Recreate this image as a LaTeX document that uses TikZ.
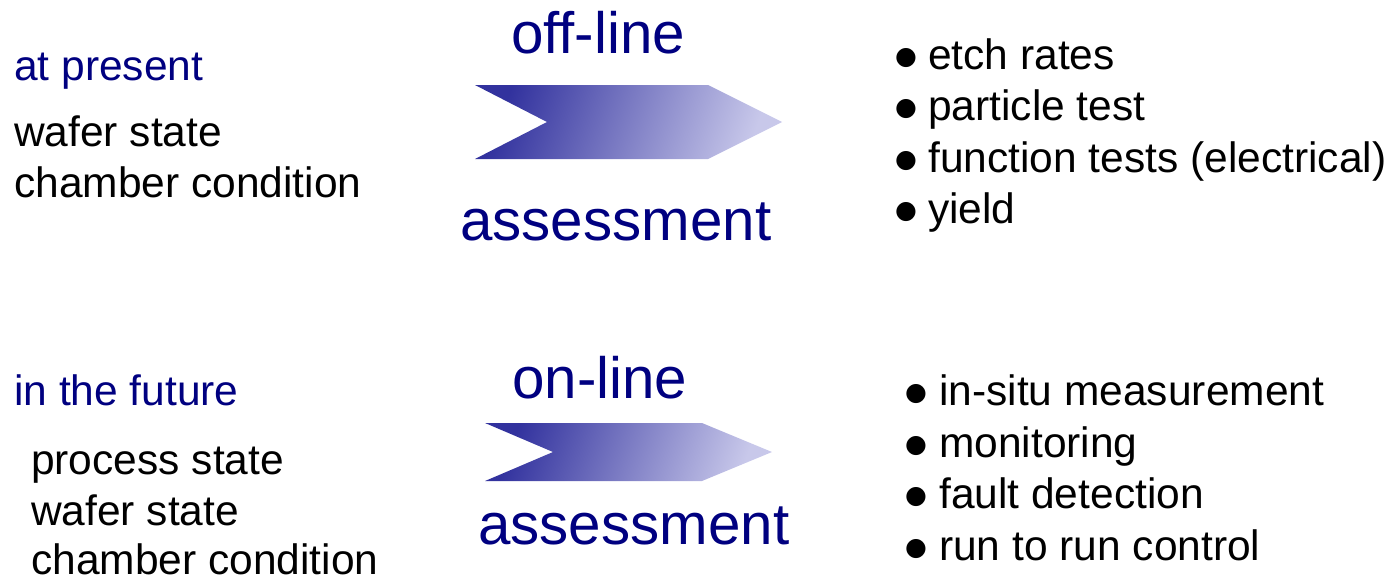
\documentclass[tikz,border=0pt]{standalone}
\usepackage{fontspec}
\setmainfont{Liberation Sans}
\newfontfamily\djv{DejaVu Sans}
\definecolor{navy}{RGB}{0,0,128}
\definecolor{arrdark}{RGB}{50,50,158}
\definecolor{arrlight}{RGB}{200,200,234}
\tikzset{
  txt/.style={anchor=base west, inner sep=0pt, font=\fontsize{42.5}{50}\selectfont},
  head/.style={txt, text=navy},
  big/.style={anchor=base west, inner sep=0pt, text=navy, font=\fontsize{58.3}{68}\selectfont},
  bul/.style={anchor=center, inner sep=0pt, font=\djv\fontsize{25}{26}\selectfont},
  chev/.style={left color=arrdark, right color=arrlight, shading angle=70}
}
\begin{document}
\begin{tikzpicture}[x=1pt,y=-1pt]
\useasboundingbox (0,0) rectangle (1394,579);
% top row
\node[head] (p0) at (14,80) {at present};
\node[txt] (p1) at (14,146) {wafer state};
\node[txt] (p2) at (14,197) {chamber condition};
\node[big] (off) at (511,53) {off-line};
\node[big] (ass1) at (460,240) {assessment};
\shade[chev] (475,85) -- (708,85) -- (782,122) -- (708,159) -- (475,159) -- (547,122) -- cycle;
\node[bul] (b1) at (906,58) {●};
\node[txt] (r1) at (928,69) {etch rates};
\node[bul] (b2) at (906,109) {●};
\node[txt] (r2) at (928,120) {particle test};
\node[bul] (b3) at (906,161) {●};
\node[txt] (r3) at (928,172) {function tests (electrical)};
\node[bul] (b4) at (906,212) {●};
\node[txt] (r4) at (928,223) {yield};
% bottom row
\node[head] (f0) at (14,405) {in the future};
\node[txt] (f1) at (31,474) {process state};
\node[txt] (f2) at (31,525) {wafer state};
\node[txt] (f3) at (31,574) {chamber condition};
\node[big] (on) at (512,398) {on-line};
\node[big] (ass2) at (478,544) {assessment};
\shade[chev] (485,423) -- (702,423) -- (772,452) -- (702,481) -- (485,481) -- (553,452) -- cycle;
\node[bul] (c1) at (916,394) {●};
\node[txt] (s1) at (939,405) {in-situ measurement};
\node[bul] (c2) at (916,446) {●};
\node[txt] (s2) at (939,457) {monitoring};
\node[bul] (c3) at (916,497) {●};
\node[txt] (s3) at (939,508) {fault detection};
\node[bul] (c4) at (916,549) {●};
\node[txt] (s4) at (939,560) {run to run control};
\end{tikzpicture}
\end{document}
